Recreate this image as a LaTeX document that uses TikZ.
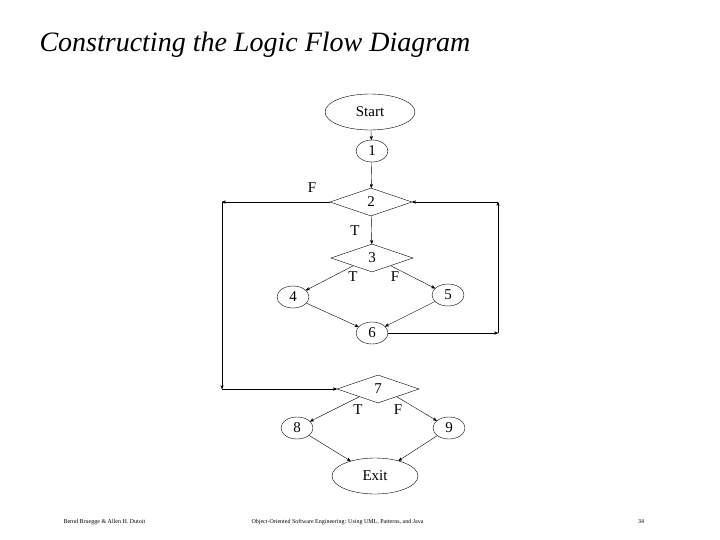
\documentclass[tikz,border=0pt]{standalone}
\usepackage{fontspec}
\setmainfont{Liberation Serif}
\usetikzlibrary{arrows,shapes.geometric}
\begin{document}
\begin{tikzpicture}[x=1pt,y=-1pt,>=stealth',
  term_node/.style={ellipse,draw,minimum width=90pt,minimum height=36pt,inner sep=0pt,font=\fontsize{15}{15}\selectfont},
  main_node/.style={ellipse,draw,minimum width=32pt,minimum height=22pt,inner sep=0pt,font=\fontsize{15}{15}\selectfont},
  dec_node/.style={diamond,draw,aspect=2.9,minimum width=82pt,minimum height=28pt,inner sep=0pt,font=\fontsize{15}{15}\selectfont},
  lab/.style={font=\fontsize{15}{15}\selectfont}]
  \useasboundingbox (0,0) rectangle (720,540);

  \node[anchor=west,font=\itshape\fontsize{28}{28}\selectfont] (title) at (36,45) {Constructing the Logic Flow Diagram};

  \node[term_node] (start) at (370,112) {Start};
  \node[main_node] (1) at (372,151) {1};
  \node[dec_node] (2) at (371,202) {2};
  \node[dec_node] (3) at (372,258) {3};
  \node[main_node] (4) at (293,297) {4};
  \node[main_node] (5) at (448,295) {5};
  \node[main_node] (6) at (372,333) {6};
  \node[dec_node] (7) at (378,389) {7};
  \node[main_node] (8) at (297,428) {8};
  \node[main_node] (9) at (449,428) {9};
  \node[term_node,minimum width=86pt] (exit) at (375,476) {Exit};

  \coordinate (lt) at (222,202);
  \coordinate (lb) at (222,389);
  \coordinate (rb) at (498,333);
  \coordinate (rt) at (498,202);

  \draw[->] (start) -- (1);
  \draw[->] (1) -- (2);
  \draw[->] (2) -- (3);
  \draw[->] (3.west) ++(22,8) -- (4);
  \draw[->] (3.east) ++(-22,8) -- (5);
  \draw[->] (4) -- (6);
  \draw[->] (5) -- (6);
  \draw[->] (6) -- (rb);
  \draw[->] (rb) -- (rt);
  \draw[->] (rt) -- (2.east);
  \draw[->] (2.west) -- (lt);
  \draw[->] (lt) -- (lb);
  \draw[->] (lb) -- (7.west);
  \draw[->] (7.west) ++(22,8) -- (8);
  \draw[->] (7.east) ++(-22,8) -- (9);
  \draw[->] (8) -- (exit);
  \draw[->] (9) -- (exit);

  \node[lab] (f2) at (312,188) {F};
  \node[lab] (t2) at (355,231) {T};
  \node[lab] (t3) at (353,277) {T};
  \node[lab] (f3) at (395,277) {F};
  \node[lab] (t7) at (358,410) {T};
  \node[lab] (f7) at (398,410) {F};

  \node[anchor=west,font=\fontsize{6}{6}\selectfont] (authors) at (60,522) {Bernd Bruegge \& Allen H. Dutoit};
  \node[anchor=west,font=\fontsize{6}{6}\selectfont] (book) at (248,522) {Object-Oriented Software Engineering: Using UML, Patterns, and Java};
  \node[font=\fontsize{6}{6}\selectfont] (page) at (641,522) {34};
\end{tikzpicture}
\end{document}
